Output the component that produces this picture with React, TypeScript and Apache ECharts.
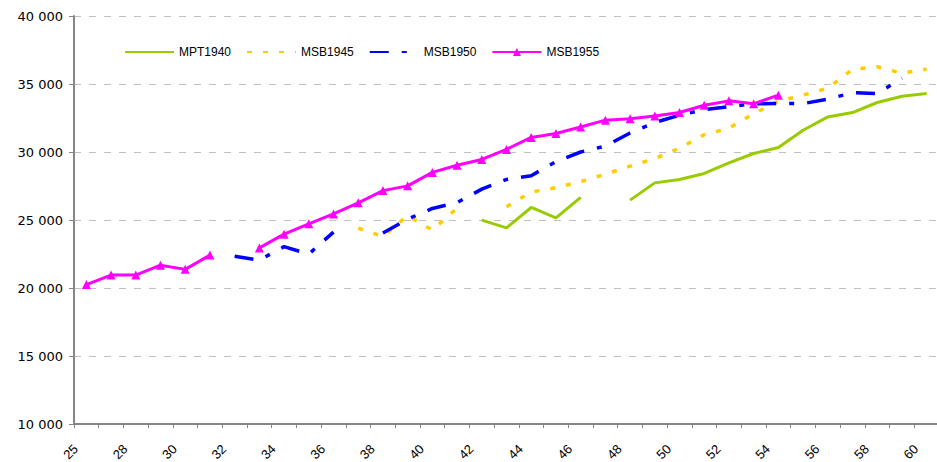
import React, { useEffect, useRef } from "react";
import * as echarts from "echarts";

const categories = [
  "25", "27", "28", "29", "30", "31", "32", "33", "34", "35", "36", "37",
  "38", "39", "40", "41", "42", "43", "44", "45", "46", "47", "48", "49",
  "50", "51", "52", "53", "54", "55", "56", "57", "58", "59", "60",
];

const seriesNames = ["MPT1940", "MSB1945", "MSB1950", "MSB1955"];

const mpt1940 = [
  null, null, null, null, null, null, null, null, null, null, null, null,
  null, null, null, null, 24990, 24420, 25920, 25160, 26660, null, 26460, 27730,
  27980, 28420, 29200, 29890, 30330, 31600, 32580, 32900, 33640, 34100, 34300,
];

const msb1945 = [
  null, null, null, null, null, null, null, null, null, null, null, 24400,
  23780, 25320, 24260, 25870, null, 25980, 27050, 27380, 27820, 28370, 28960, 29510,
  30280, 31270, 31750, 32820, 33730, 34180, 34690, 36090, 36270, 35790, 36090,
];

const msb1950 = [
  null, null, null, null, null, null, 22340, 22050, 23040, 22490, 24110, null,
  24040, 25060, 25850, 26280, 27270, 27980, 28260, 29300, 30000, 30430, 31400, 32170,
  32700, 33120, 33330, 33550, 33560, 33560, 33880, 34360, 34300, 35420, null,
];

const msb1955 = [
  20250, 20950, 20950, 21680, 21370, 22420, null, 22950, 23960, 24720, 25450, 26260,
  27160, 27510, 28500, 29030, 29450, 30190, 31070, 31360, 31840, 32340, 32450, 32650,
  32900, 33440, 33760, 33540, 34180, null, null, null, null, null, null,
];

const yMin = 10000;
const yMax = 40000;
const yStep = 5000;

const FONT = "'Liberation Sans', Arial, sans-serif";
const WIDE_FONT = "'DejaVu Sans', 'Liberation Sans', sans-serif";

function fmt(v: number): string {
  return String(v).replace(/\B(?=(\d{3})+(?!\d))/g, " ");
}

export default function App() {
  const ref = useRef<HTMLDivElement>(null);
  useEffect(() => {
    const chart = echarts.init(ref.current!, null, { renderer: "svg" });
    chart.setOption({
      animation: false,
      backgroundColor: "#ffffff",
      textStyle: { fontFamily: FONT },
      grid: {
        left: 74,
        right: -2,
        top: 16,
        bottom: 38,
        containLabel: false,
        outerBoundsMode: "none",
      },
      legend: {
        data: [
          { name: seriesNames[0], itemStyle: { opacity: 0 } },
          { name: seriesNames[1], itemStyle: { opacity: 0 } },
          { name: seriesNames[2], itemStyle: { opacity: 0 } },
          { name: seriesNames[3] },
        ],
        left: 124,
        top: 46,
        padding: 0,
        itemWidth: 49,
        itemHeight: 10,
        itemGap: 15,
        textStyle: { fontSize: 12, color: "#000", fontFamily: FONT },
      },
      xAxis: {
        type: "category",
        data: categories,
        boundaryGap: true,
        axisLine: { show: true, lineStyle: { color: "#868686", width: 2 } },
        axisTick: { show: true, interval: 0, length: 4, lineStyle: { color: "#868686", width: 1 } },
        axisLabel: {
          interval: 1,
          rotate: 45,
          fontSize: 13,
          color: "#000",
          margin: 12,
          padding: [0, 15, 0, 0],
          fontFamily: FONT,
        },
        splitLine: { show: false },
      },
      yAxis: {
        type: "value",
        min: yMin,
        max: yMax,
        interval: yStep,
        axisLine: { show: true, lineStyle: { color: "#868686", width: 2 } },
        axisTick: { show: true, length: 5, lineStyle: { color: "#868686", width: 1 } },
        axisLabel: {
          formatter: (v: number) => fmt(v),
          fontSize: 13,
          color: "#000",
          margin: 11,
          fontFamily: WIDE_FONT,
        },
        splitLine: { show: true, lineStyle: { color: "#c0c0c0", width: 1, type: [7, 8] } },
      },
      series: [
        {
          name: seriesNames[0],
          type: "line",
          data: mpt1940,
          symbol: "none",
          showSymbol: false,
          connectNulls: false,
          lineStyle: { color: "#99CC00", width: 3 },
          itemStyle: { color: "#99CC00" },
        },
        {
          name: seriesNames[1],
          type: "line",
          data: msb1945,
          symbol: "none",
          showSymbol: false,
          connectNulls: false,
          lineStyle: { color: "#FFCC00", width: 3.5, type: [5, 11] },
          itemStyle: { color: "#FFCC00" },
        },
        {
          name: seriesNames[2],
          type: "line",
          data: msb1950,
          symbol: "none",
          showSymbol: false,
          connectNulls: false,
          lineStyle: { color: "#0000FF", width: 3.5, type: [19, 13, 5, 13] },
          itemStyle: { color: "#0000FF" },
        },
        {
          name: seriesNames[3],
          type: "line",
          data: msb1955,
          symbol: "triangle",
          symbolSize: 9,
          connectNulls: false,
          lineStyle: { color: "#FF00FF", width: 3 },
          itemStyle: { color: "#FF00FF" },
        },
      ],
    });
    return () => chart.dispose();
  }, []);
  return (
    <div
      ref={ref}
      style={{ position: "fixed", left: 0, top: 0, width: 937, height: 462, background: "#fff" }}
    />
  );
}
